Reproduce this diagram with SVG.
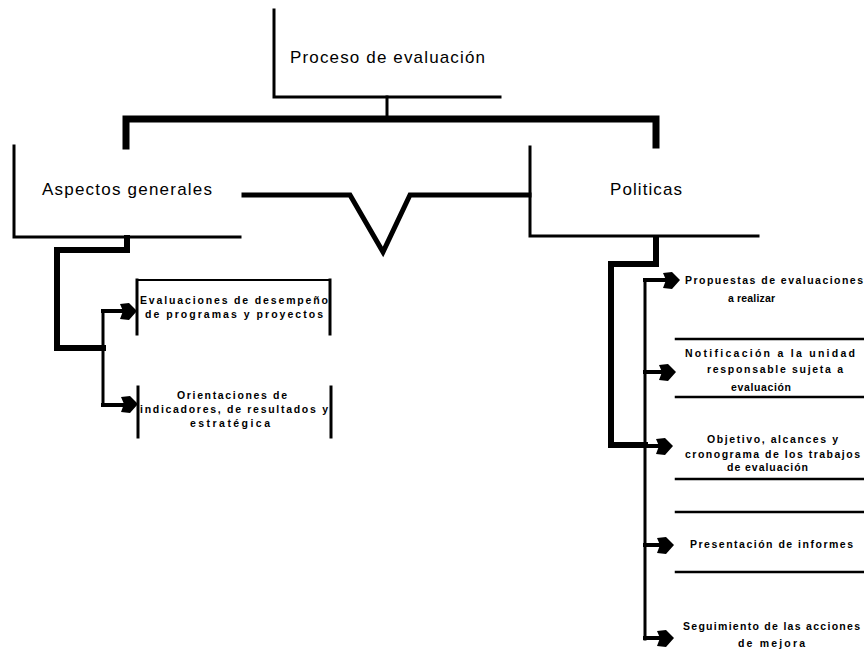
<svg xmlns="http://www.w3.org/2000/svg" width="864" height="665" viewBox="0 0 864 665">
<defs>
<style>
.ln{fill:none;stroke:#000;stroke-linecap:square;stroke-linejoin:miter}
.big{font-family:"Liberation Sans","DejaVu Sans",sans-serif;font-size:17px;fill:#000}
.sm{font-family:"Liberation Sans","DejaVu Sans",sans-serif;font-size:10.5px;font-weight:bold;fill:#000}
</style>
<path id="ah" d="M0,0 L-8,-8 L-17,-7 L-14,0 L-17,8 L-8,9 Z" fill="#000"/>
</defs>
<rect width="864" height="665" fill="#fff"/>

<g id="connectors">
  <path class="ln" stroke-width="3" d="M387,97 V117"/>
  <path class="ln" stroke-width="7" d="M126,146 V119 H656 V145"/>
  <polyline class="ln" stroke-width="5" points="244,195 350,195 383,252 410,195 529,195"/>
  <path class="ln" stroke-width="6" d="M127,238 V250 H57 V348 H103"/>
  <path class="ln" stroke-width="3" d="M103,311 V405"/>
  <path class="ln" stroke-width="4" d="M103,311 H124"/>
  <path class="ln" stroke-width="4" d="M103,405 H124"/>
  <use href="#ah" transform="translate(137,311)"/>
  <use href="#ah" transform="translate(138,404)"/>
  <path class="ln" stroke-width="6" d="M656,238 V264 H611 V445 H645"/>
  <path class="ln" stroke-width="3" d="M645,280 V639"/>
  <path class="ln" stroke-width="4" d="M645,280 H665"/>
  <path class="ln" stroke-width="4" d="M645,372 H662"/>
  <path class="ln" stroke-width="4" d="M645,446 H660"/>
  <path class="ln" stroke-width="4" d="M645,545 H660"/>
  <path class="ln" stroke-width="4" d="M645,638 H660"/>
  <use href="#ah" transform="translate(680,280)"/>
  <use href="#ah" transform="translate(676,372)"/>
  <use href="#ah" transform="translate(673,446)"/>
  <use href="#ah" transform="translate(674,545)"/>
  <use href="#ah" transform="translate(674,638)"/>
</g>

<g id="proceso">
  <path class="ln" stroke-width="3" d="M274,10 V97 H500"/>
  <text class="big" x="290" y="63" font-size="18" textLength="195" lengthAdjust="spacing">Proceso de evaluación</text>
</g>

<g id="aspectos">
  <path class="ln" stroke-width="3" d="M14,146 V237 H240"/>
  <text class="big" x="42" y="195" textLength="170" lengthAdjust="spacing">Aspectos generales</text>
</g>

<g id="politicas">
  <path class="ln" stroke-width="3" d="M530,147 V236 H758"/>
  <text class="big" x="610" y="195" textLength="72" lengthAdjust="spacing">Politicas</text>
</g>

<g id="evaluaciones">
  <path class="ln" stroke-width="2" d="M137,280 H330"/>
  <path class="ln" stroke-width="3" d="M137,280 V334"/>
  <path class="ln" stroke-width="3" d="M330,280 V334"/>
  <text class="sm" font-size="11" x="140" y="304" textLength="188" lengthAdjust="spacing">Evaluaciones de desempeño</text>
  <text class="sm" font-size="11" x="145" y="318" textLength="178" lengthAdjust="spacing">de programas y proyectos</text>
</g>

<g id="orientaciones">
  <path class="ln" stroke-width="3" d="M138,387 V437"/>
  <path class="ln" stroke-width="3" d="M331,387 V437"/>
  <text class="sm" font-size="11" x="177" y="399" textLength="110" lengthAdjust="spacing">Orientaciones de</text>
  <text class="sm" font-size="11" x="140" y="413" textLength="188" lengthAdjust="spacing">indicadores, de resultados y</text>
  <text class="sm" font-size="11" x="190" y="427" textLength="80" lengthAdjust="spacing">estratégica</text>
</g>

<g id="propuestas">
  <text class="sm" x="685" y="284" textLength="178" lengthAdjust="spacing">Propuestas de evaluaciones</text>
  <text class="sm" x="728" y="302" textLength="47" lengthAdjust="spacing">a realizar</text>
</g>

<g id="notificacion">
  <path class="ln" stroke-width="2.5" d="M676,339 H864"/>
  <path class="ln" stroke-width="2.5" d="M676,397 H864"/>
  <text class="sm" x="685" y="357" textLength="170" lengthAdjust="spacing">Notificación a la unidad</text>
  <text class="sm" x="707" y="373" textLength="136" lengthAdjust="spacing">responsable sujeta a</text>
  <text class="sm" x="731" y="391" textLength="60" lengthAdjust="spacing">evaluación</text>
</g>

<g id="objetivo">
  <path class="ln" stroke-width="2.5" d="M676,479 H864"/>
  <text class="sm" x="707" y="443" textLength="131" lengthAdjust="spacing">Objetivo, alcances y</text>
  <text class="sm" x="685" y="458" textLength="175" lengthAdjust="spacing">cronograma de los trabajos</text>
  <text class="sm" x="727" y="471" textLength="81" lengthAdjust="spacing">de evaluación</text>
</g>

<g id="presentacion">
  <path class="ln" stroke-width="2.5" d="M676,512 H864"/>
  <path class="ln" stroke-width="2.5" d="M676,572 H864"/>
  <text class="sm" x="690" y="548" textLength="163" lengthAdjust="spacing">Presentación de informes</text>
</g>

<g id="seguimiento">
  <text class="sm" x="683" y="630" textLength="177" lengthAdjust="spacing">Seguimiento de las acciones</text>
  <text class="sm" x="738" y="647" textLength="67" lengthAdjust="spacing">de mejora</text>
</g>
</svg>
